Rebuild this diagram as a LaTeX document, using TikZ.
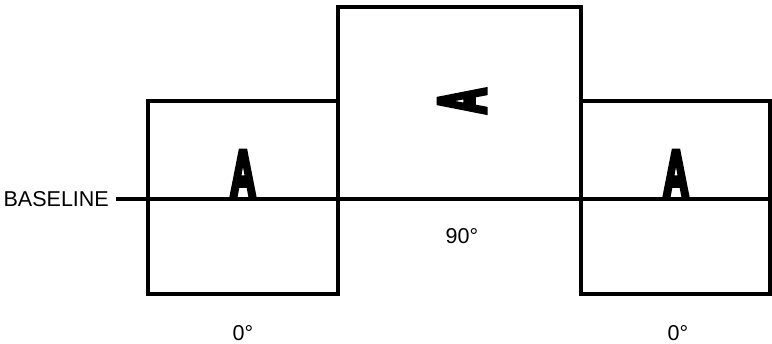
\documentclass[tikz,border=0pt]{standalone}
\usepackage{fontspec}
\setmainfont{Liberation Sans}
\newfontfamily\glyphfont{Liberation Sans}[BoldFeatures={FakeBold=8}]
\usetikzlibrary{positioning}
\tikzset{
  frame style/.style={
    line width=3.8pt,        % heavy frame lines
    line join=miter,
  },
  label style/.style={font=\fontsize{21.5}{21.5}\selectfont, inner sep=0pt},
  glyph style/.style={
    font=\glyphfont\bfseries\fontsize{36}{36}\selectfont,
    inner sep=0pt, yscale=1.85, transform shape
  }
}

\begin{document}
\begin{tikzpicture}[x=1pt, y=-1pt]
    \useasboundingbox (0,0) rectangle (772,344);

    % The three frames (left and right at 0 degrees, middle raised at 90 degrees)
    \draw[frame style] (148,101) rectangle (338,294);
    \draw[frame style] (338,198) -- (338,7) -- (581,7) -- (581,198);
    \draw[frame style] (581,101) rectangle (770,294);

    % Baseline label and the line through all frames
    \node[label style, anchor=east] (baseline) at (109,199) {BASELINE};
    \coordinate (lineend) at (770,199);
    \draw[frame style, shorten <=7pt] (baseline) -- (lineend);

    % The letters standing on the baseline
    \node[glyph style, anchor=base] (aleft) at (243,197) {A};
    \node[glyph style, anchor=base] (aright) at (676,197) {A};
    \node[rotate=90, glyph style, anchor=base] (amid) at (485,101) {A};

    % Angle labels
    \node[label style] (angleleft) at (243,333) {0°};
    \node[label style] (anglemid) at (462,236) {90°};
    \node[label style] (angleright) at (678,333) {0°};
\end{tikzpicture}
\end{document}
